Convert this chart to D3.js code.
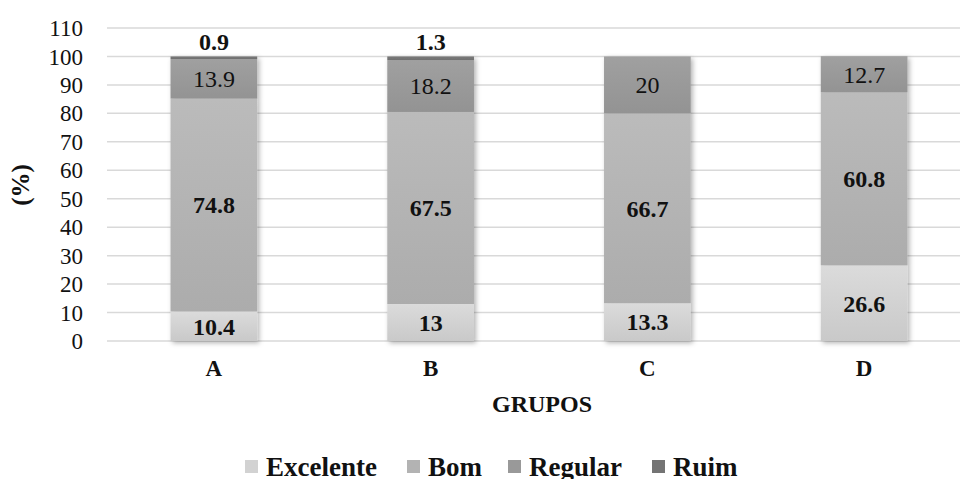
<!DOCTYPE html>
<html><head><meta charset="utf-8">
<script src="https://cdn.jsdelivr.net/npm/d3@7"></script>
<style>
body{margin:0;background:#fff;}
text{font-family:"Liberation Serif","Times New Roman",serif;}
</style></head>
<body><svg id="c" width="960" height="479"></svg>
<script>
const categories = ["A","B","C","D"];
const seriesNames = ["Excelente","Bom","Regular","Ruim"];
const excelente = [10.4, 13, 13.3, 26.6];
const bom = [74.8, 67.5, 66.7, 60.8];
const regular = [13.9, 18.2, 20, 12.7];
const ruim = [0.9, 1.3, 0, 0];
const yTicks = [0,10,20,30,40,50,60,70,80,90,100,110];

const colors = {Excelente:"#d2d2d2", Bom:"#b3b3b3", Regular:"#999999", Ruim:"#747474"};
const labelWeight = {Excelente:"bold", Bom:"bold", Regular:"normal", Ruim:"bold"};

const rows = categories.map((c,i)=>({cat:c, Excelente:excelente[i], Bom:bom[i], Regular:regular[i], Ruim:ruim[i]}));
const stack = d3.stack().keys(seriesNames)(rows);

const svg = d3.select("#c");
const defs = svg.append("defs");
const f = defs.append("filter").attr("id","sh").attr("x","-20%").attr("y","-20%").attr("width","140%").attr("height","140%");
f.append("feDropShadow").attr("dx",2).attr("dy",2).attr("stdDeviation",2.5).attr("flood-color","#000").attr("flood-opacity",0.3);
seriesNames.forEach(k=>{
  const g = defs.append("linearGradient").attr("id","g"+k).attr("x1",0).attr("y1",0).attr("x2",0).attr("y2",1);
  const c = d3.color(colors[k]);
  g.append("stop").attr("offset","0%").attr("stop-color", c.brighter(0.12).formatHex());
  g.append("stop").attr("offset","100%").attr("stop-color", c.darker(0.12).formatHex());
});

const x = d3.scaleBand().domain(categories).range([105.5, 972.5]).paddingInner(0.6).paddingOuter(0.3);
const y = d3.scaleLinear().domain([0,110]).range([341, 28]);

// gridlines
svg.append("g").selectAll("line").data(yTicks).join("line")
  .attr("x1",107).attr("x2",960).attr("y1",d=>y(d)).attr("y2",d=>y(d))
  .attr("stroke","#d9d9d9").attr("stroke-width",1.5);

// y tick labels
const yAxis = d3.axisLeft(y).tickValues(yTicks).tickSize(0).tickPadding(0);
const ya = svg.append("g").attr("transform","translate(83,0)").call(yAxis);
ya.attr("font-family",null);
ya.select(".domain").remove();
ya.selectAll("text").attr("font-size",23).attr("fill","#111").attr("dy","0.33em")
  .style("font-family","'Liberation Serif','Times New Roman',serif");

// bars
const barG = svg.append("g").attr("filter","url(#sh)");
stack.forEach(s=>{
  barG.append("g").selectAll("rect").data(s).join("rect")
    .attr("x",d=>x(d.data.cat)).attr("width",x.bandwidth())
    .attr("y",d=>y(d[1])).attr("height",d=>Math.max(0,y(d[0])-y(d[1])))
    .attr("fill","url(#g"+s.key+")");
});

// labels
stack.forEach(s=>{
  const k = s.key;
  svg.append("g").selectAll("text").data(s.filter(d=>d[1]-d[0]>0)).join("text")
    .attr("x",d=>x(d.data.cat)+x.bandwidth()/2)
    .attr("y",d=> k==="Ruim" ? y(d[1])-6 : (y(d[0])+y(d[1]))/2)
    .attr("dy", k==="Ruim" ? "0" : "0.35em")
    .attr("text-anchor","middle").attr("font-size",24).attr("font-weight",labelWeight[k])
    .attr("fill","#111").text(d=>d.data[k]);
});

// x labels
const xAxis = d3.axisBottom(x).tickSize(0).tickPadding(0);
const xa = svg.append("g").attr("transform","translate(0,376)").call(xAxis);
xa.attr("font-family",null);
xa.select(".domain").remove();
xa.selectAll("text").attr("font-size",23).attr("font-weight","bold").attr("fill","#111").attr("dy","0")
  .style("font-family","'Liberation Serif','Times New Roman',serif");

svg.append("text").attr("x",542).attr("y",412).attr("text-anchor","middle")
  .attr("font-size",24).attr("font-weight","bold").attr("fill","#111").text("GRUPOS");

svg.append("text").attr("transform","translate(29,185) rotate(-90)").attr("text-anchor","middle")
  .attr("font-size",25).attr("font-weight","bold").attr("fill","#111").text("(%)");

// legend
const legendX = [245, 407, 508, 652];
const lg = svg.append("g");
seriesNames.forEach((k,i)=>{
  lg.append("rect").attr("x",legendX[i]).attr("y",460).attr("width",13).attr("height",13).attr("fill",colors[k]);
  lg.append("text").attr("x",legendX[i]+21).attr("y",476).attr("font-size",27).attr("font-weight","bold")
    .attr("fill","#111").text(k);
});
</script></body></html>
